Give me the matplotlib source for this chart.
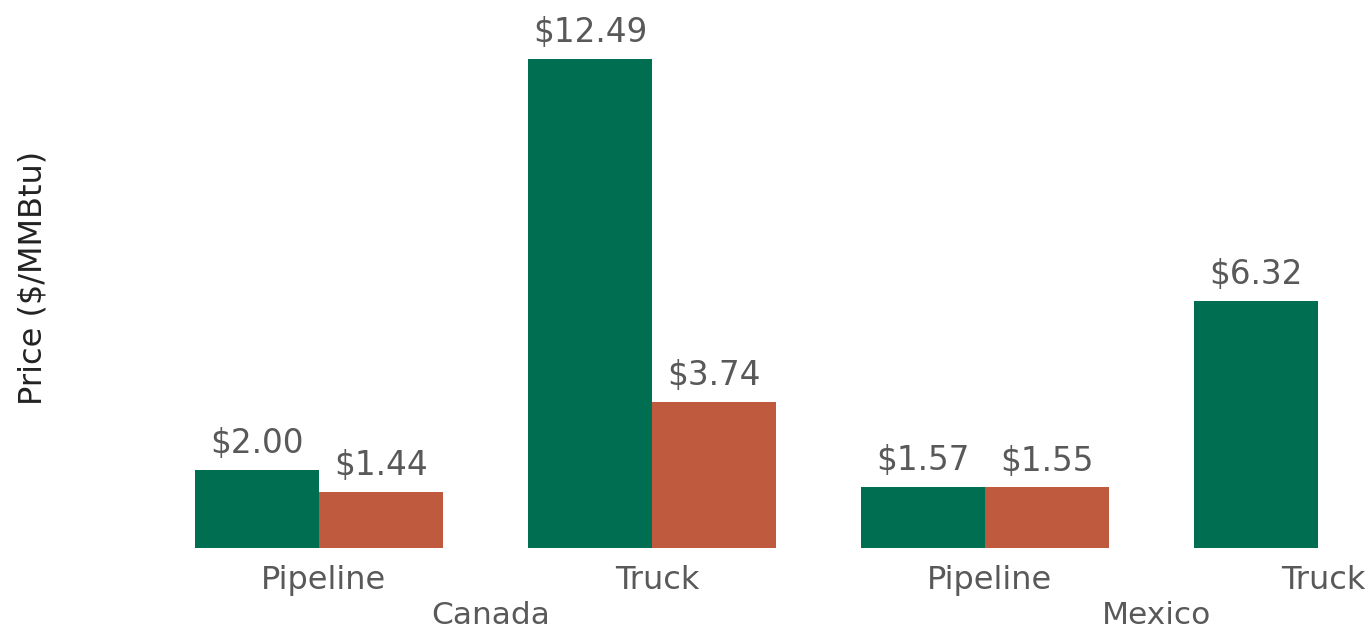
import matplotlib
matplotlib.use("Agg")
import matplotlib.pyplot as plt
import numpy as np

countries = ["Canada", "Mexico"]
modes = ["Pipeline", "Truck", "Pipeline", "Truck"]
series_green = [2.00, 12.49, 1.57, 6.32]
series_orange = [1.44, 3.74, 1.55, np.nan]

GREEN = "#006F51"
ORANGE = "#C05A3F"
GRAY = "#595959"

W, H = 1369, 629
fig = plt.figure(figsize=(W / 100, H / 100), dpi=100)
x0_px, unit_px = 319, 333
left_px, right_px = 152, 1369
bottom_px, top_px = 548, 0
ax = fig.add_axes([left_px / W, (H - bottom_px) / H, (right_px - left_px) / W, (bottom_px - top_px) / H])
ax.set_xlim((left_px - x0_px) / unit_px, (right_px - x0_px) / unit_px)
ax.set_ylim(0, 548 / 39.15)

x = np.arange(len(modes))
bw = 124 / unit_px
b1 = ax.bar(x - bw / 2, series_green, width=bw, color=GREEN)
b2 = ax.bar(x + bw / 2, series_orange, width=bw, color=ORANGE)

for bars, vals in ((b1, series_green), (b2, series_orange)):
    for rect, v in zip(bars, vals):
        if np.isnan(v):
            continue
        ax.annotate(f"${v:.2f}", (rect.get_x() + rect.get_width() / 2, v),
                    xytext=(0, 7), textcoords="offset points",
                    ha="center", va="bottom", fontsize=23.5, color=GRAY)

ax.set_xticks(x + 0.015)
ax.set_xticklabels(modes, fontsize=23, color=GRAY)
ax.tick_params(axis="x", length=0, pad=12)
ax.set_yticks([])
for s in ax.spines.values():
    s.set_visible(False)

for i, c in enumerate(countries):
    ax.text(0.515 + 2 * i, -0.124, c, transform=ax.get_xaxis_transform(),
            ha="center", va="center", fontsize=22.5, color=GRAY)

fig.text(33 / W, 1 - 278 / H, "Price ($/MMBtu)", rotation=90, ha="center", va="center",
         fontsize=23, color="#222222")

fig.savefig("out.png", dpi=100)
